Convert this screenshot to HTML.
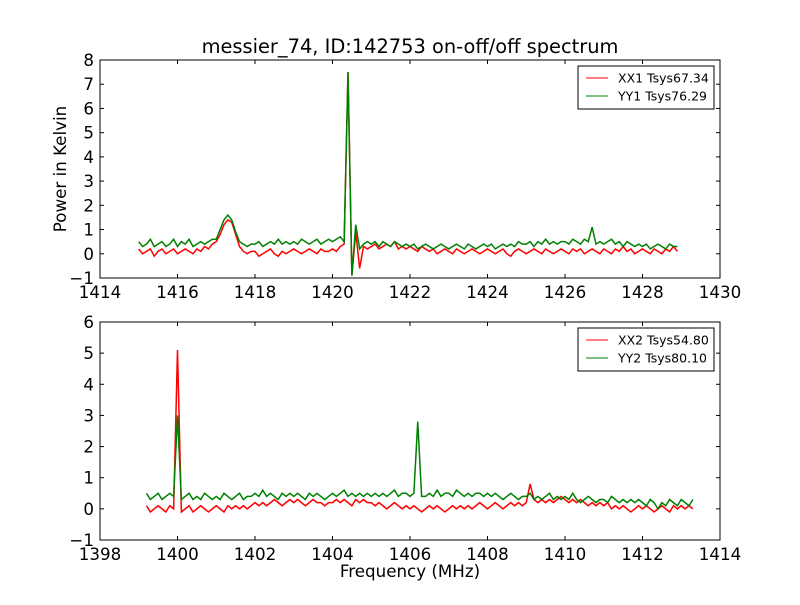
<!DOCTYPE html>
<html><head><meta charset="utf-8"><style>
html,body{margin:0;padding:0;background:#fff}
svg text{font-family:"DejaVu Sans","Liberation Sans",sans-serif}
</style></head><body>
<svg id="chart" width="800" height="600" xmlns="http://www.w3.org/2000/svg">
<rect width="800" height="600" fill="#fff"/>
<text x="410" y="53" font-size="19.4" text-anchor="middle">messier_74, ID:142753 on-off/off spectrum</text>
<text x="66" y="169" font-size="16.7" text-anchor="middle" transform="rotate(-90 66 169)">Power in Kelvin</text>
<text x="410" y="577" font-size="16.7" text-anchor="middle">Frequency (MHz)</text>
<g id="top"></g>
<g id="bot"></g>
</svg>
<script>
const topStart = 1415.0, botStart = 1399.2, step = 0.1;
const topXTicks = [1414,1416,1418,1420,1422,1424,1426,1428,1430];
const topYTicks = [-1,0,1,2,3,4,5,6,7,8];
const botXTicks = [1398,1400,1402,1404,1406,1408,1410,1412,1414];
const botYTicks = [-1,0,1,2,3,4,5,6];
const xx1 = [0.2,0.0,0.1,0.2,-0.1,0.1,0.2,0.0,0.1,0.2, 0.0,0.1,0.2,0.1,0.0,0.2,0.1,0.3,0.2,0.4,
0.5,0.8,1.2,1.4,1.3,0.8,0.3,0.1,0.0,0.1, 0.1,-0.1,0.0,0.1,0.2,0.0,-0.1,0.1,0.0,0.1,
0.2,0.1,0.0,0.1,0.2,0.1,0.0,0.2,0.1,0.1, 0.2,0.1,0.3,0.4,7.5,-0.9,0.9,-0.6,0.3,0.2,
0.3,0.4,0.2,0.3,0.4,0.3,0.5,0.2,0.3,0.2, 0.3,0.2,0.1,0.3,0.2,0.1,0.2,0.0,0.1,0.2,
0.1,0.0,0.2,0.1,0.0,0.1,0.2,0.1,0.0,0.1, 0.2,0.1,0.0,0.1,0.2,0.0,-0.1,0.1,0.2,0.1,
0.0,0.1,0.2,0.1,0.0,0.2,0.1,0.0,0.1,0.2, 0.1,0.0,0.2,0.1,0.2,0.0,0.1,0.2,0.1,0.0,
0.2,0.1,0.0,0.2,0.1,0.3,0.1,0.2,0.0,0.1, 0.2,0.1,0.0,0.2,0.1,0.0,0.2,0.1,0.3,0.1];
const yy1 = [0.5,0.3,0.4,0.6,0.3,0.4,0.5,0.3,0.4,0.6, 0.3,0.5,0.4,0.6,0.3,0.4,0.5,0.4,0.5,0.6,
0.6,1.0,1.4,1.6,1.4,0.9,0.5,0.4,0.3,0.4, 0.4,0.5,0.3,0.4,0.5,0.4,0.6,0.4,0.5,0.4,
0.5,0.4,0.6,0.5,0.4,0.5,0.6,0.4,0.5,0.6, 0.5,0.6,0.7,0.5,7.5,-0.9,1.2,0.2,0.4,0.5,
0.4,0.5,0.3,0.5,0.4,0.3,0.5,0.4,0.3,0.4, 0.3,0.4,0.2,0.3,0.4,0.3,0.2,0.3,0.4,0.3,
0.2,0.3,0.4,0.3,0.2,0.4,0.3,0.2,0.3,0.4, 0.3,0.4,0.2,0.3,0.4,0.3,0.4,0.3,0.5,0.4,
0.4,0.5,0.3,0.5,0.4,0.6,0.4,0.5,0.4,0.5, 0.5,0.4,0.6,0.5,0.4,0.6,0.5,1.1,0.4,0.5,
0.4,0.5,0.6,0.4,0.5,0.3,0.5,0.4,0.3,0.4, 0.3,0.4,0.2,0.3,0.4,0.3,0.2,0.4,0.3,0.3];
const xx2 = [0.1,-0.1,0.0,0.1,0.0,-0.1,0.1,0.0,
5.1,-0.1,0.0,0.1,-0.1,0.0,0.1,0.0,-0.1,0.0, 0.1,0.0,-0.1,0.1,0.0,0.1,0.0,0.1,0.0,0.1,
0.2,0.1,0.2,0.1,0.2,0.3,0.2,0.1,0.2,0.3, 0.2,0.3,0.2,0.1,0.2,0.3,0.2,0.2,0.1,0.2,
0.2,0.3,0.2,0.3,0.2,0.1,0.3,0.2,0.3,0.2, 0.2,0.1,0.2,0.1,0.0,0.1,0.2,0.1,0.0,0.1,
0.0,0.1,0.0,-0.1,0.0,0.1,0.0,0.1,0.0,-0.1, 0.0,0.1,0.0,0.1,0.0,0.1,0.0,0.1,0.2,0.1,
0.0,0.1,0.2,0.1,0.0,0.1,0.2,0.1,0.2,0.1, 0.2,0.8,0.3,0.2,0.3,0.2,0.3,0.2,0.3,0.4,
0.3,0.2,0.3,0.2,0.3,0.2,0.1,0.2,0.1,0.2, 0.1,0.2,0.0,0.1,0.0,0.1,0.0,-0.1,0.0,0.1,
0.0,0.1,0.0,-0.1,0.0,0.1,0.0,-0.1,0.1,0.0, 0.1,0.0,0.1,0.0];
const yy2 = [0.5,0.3,0.4,0.5,0.3,0.4,0.5,0.4,
3.0,0.3,0.4,0.5,0.3,0.4,0.3,0.5,0.4,0.3, 0.4,0.3,0.5,0.4,0.3,0.4,0.5,0.3,0.4,0.4,
0.5,0.4,0.6,0.4,0.5,0.4,0.3,0.5,0.4,0.5, 0.4,0.5,0.4,0.3,0.5,0.4,0.5,0.4,0.3,0.4,
0.5,0.4,0.5,0.6,0.4,0.5,0.4,0.5,0.4,0.5, 0.4,0.5,0.4,0.5,0.4,0.5,0.6,0.4,0.5,0.5,
0.4,0.5,2.8,0.4,0.4,0.5,0.4,0.6,0.4,0.5, 0.5,0.4,0.6,0.5,0.4,0.5,0.4,0.5,0.5,0.4,
0.5,0.4,0.5,0.4,0.3,0.4,0.5,0.4,0.3,0.4, 0.4,0.5,0.3,0.4,0.3,0.4,0.5,0.3,0.4,0.3,
0.4,0.3,0.5,0.3,0.2,0.3,0.4,0.3,0.2,0.3, 0.3,0.2,0.4,0.3,0.2,0.3,0.2,0.3,0.2,0.3,
0.2,0.1,0.3,0.2,0.0,0.2,0.1,0.3,0.2,0.1, 0.3,0.2,0.1,0.3];
const topLegend = ["XX1 Tsys67.34","YY1 Tsys76.29"];
const botLegend = ["XX2 Tsys54.80","YY2 Tsys80.10"];

const NS="http://www.w3.org/2000/svg";
function mk(tag, attrs, parent){const e=document.createElementNS(NS,tag);for(const k in attrs)e.setAttribute(k,attrs[k]);parent.appendChild(e);return e;}

function panel(g, box, xd, yd, xt, yt, start, reds, greens, legend, prefix){
  const sx=v=>box.x+(v-xd[0])/(xd[1]-xd[0])*box.w;
  const sy=v=>box.y+box.h-(v-yd[0])/(yd[1]-yd[0])*box.h;
  const clip=mk('clipPath',{id:prefix+'clip'},g);
  mk('rect',{x:box.x,y:box.y,width:box.w,height:box.h},clip);
  [[reds,'#ff0000','xx'],[greens,'#008000','yy']].forEach(([arr,col,nm])=>{
    const pts=arr.map((v,i)=>sx(start+i*step).toFixed(2)+','+sy(v).toFixed(2)).join(' ');
    const pl=mk('polyline',{points:pts,fill:'none',stroke:col,'stroke-width':1.5,'clip-path':'url(#'+prefix+'clip)'},g);
    
    
  });
  const fr=mk('rect',{x:box.x,y:box.y,width:box.w,height:box.h,fill:'none',stroke:'#000','stroke-width':1},g);
  
  
  xt.forEach(v=>{const x=sx(v);
    mk('line',{x1:x,x2:x,y1:box.y+box.h,y2:box.y+box.h-4,stroke:'#000'},g);
    mk('line',{x1:x,x2:x,y1:box.y,y2:box.y+4,stroke:'#000'},g);
    const t=mk('text',{x:x,y:box.y+box.h+20,'font-size':16.7,'text-anchor':'middle'},g);t.textContent=v;
    
    
  });
  yt.forEach(v=>{const y=sy(v);
    mk('line',{x1:box.x,x2:box.x+4,y1:y,y2:y,stroke:'#000'},g);
    mk('line',{x1:box.x+box.w,x2:box.x+box.w-4,y1:y,y2:y,stroke:'#000'},g);
    const t=mk('text',{x:box.x-6,y:y+6,'font-size':16.7,'text-anchor':'end'},g);t.textContent=v<0?'\u2212'+(-v):v;
    
    
  });
  const lg=mk('g',{},g);
  
  
  const lx=578, ly=box.y+6;
  mk('rect',{x:lx,y:ly,width:136,height:43,fill:'#fff',stroke:'#000'},lg);
  legend.forEach((s,i)=>{const y=ly+12+i*18;
    mk('line',{x1:lx+8,x2:lx+30,y1:y,y2:y,stroke:i?'#008000':'#ff0000','stroke-width':1},lg);
    const t=mk('text',{x:lx+40,y:y+4.5,'font-size':12.5},lg);t.textContent=s;
    
    
  });
}
panel(document.getElementById('top'),{x:100,y:60,w:620,h:218},[1414,1430],[-1,8],topXTicks,topYTicks,topStart,xx1,yy1,topLegend,'top');
panel(document.getElementById('bot'),{x:100,y:322,w:620,h:218},[1398,1414],[-1,6],botXTicks,botYTicks,botStart,xx2,yy2,botLegend,'bottom');
</script>
</body></html>
